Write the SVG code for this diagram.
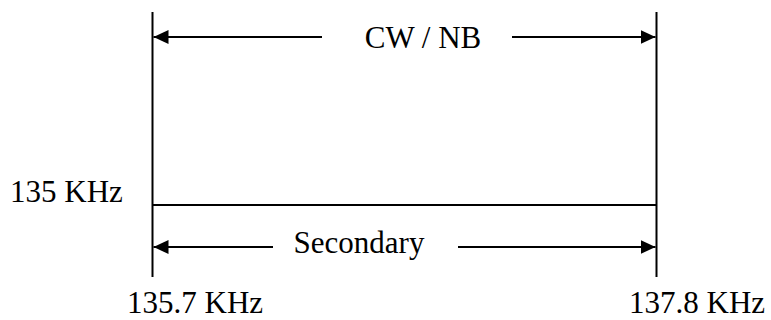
<svg xmlns="http://www.w3.org/2000/svg" width="771" height="320" viewBox="0 0 771 320">
<style>
.ln{stroke:#000;stroke-width:2;fill:none}
.t{font-size:31px;fill:#000}
</style>
<defs>
<marker id="ah" markerUnits="userSpaceOnUse" markerWidth="16" markerHeight="16" viewBox="0 0 16 16" refX="15" refY="8" orient="auto">
<path d="M0,1 L15,8 L0,15 Z" fill="#000"/>
</marker>
</defs>
<rect width="771" height="320" fill="#fff"/>
<g id="bounds">
<line class="ln" x1="152.5" y1="12" x2="152.5" y2="277"/>
<line class="ln" x1="656.5" y1="12" x2="656.5" y2="277"/>
<line class="ln" x1="152.5" y1="205" x2="656.5" y2="205"/>
</g>
<g id="connectors">
<line class="ln" x1="322" y1="37" x2="153.5" y2="37" marker-end="url(#ah)"/>
<line class="ln" x1="512" y1="37" x2="655.5" y2="37" marker-end="url(#ah)"/>
<line class="ln" x1="273" y1="247" x2="153.5" y2="247" marker-end="url(#ah)"/>
<line class="ln" x1="458" y1="247" x2="655.5" y2="247" marker-end="url(#ah)"/>
</g>
<g id="labels" font-family="'Times New Roman', Times, 'Liberation Serif', 'DejaVu Serif', serif">
<text class="t" x="423" y="48" text-anchor="middle">CW / NB</text>
<text class="t" x="359" y="253" text-anchor="middle">Secondary</text>
<text class="t" x="10" y="202">135 KHz</text>
<text class="t" x="127" y="313">135.7 KHz</text>
<text class="t" x="629" y="313">137.8 KHz</text>
</g>
</svg>
